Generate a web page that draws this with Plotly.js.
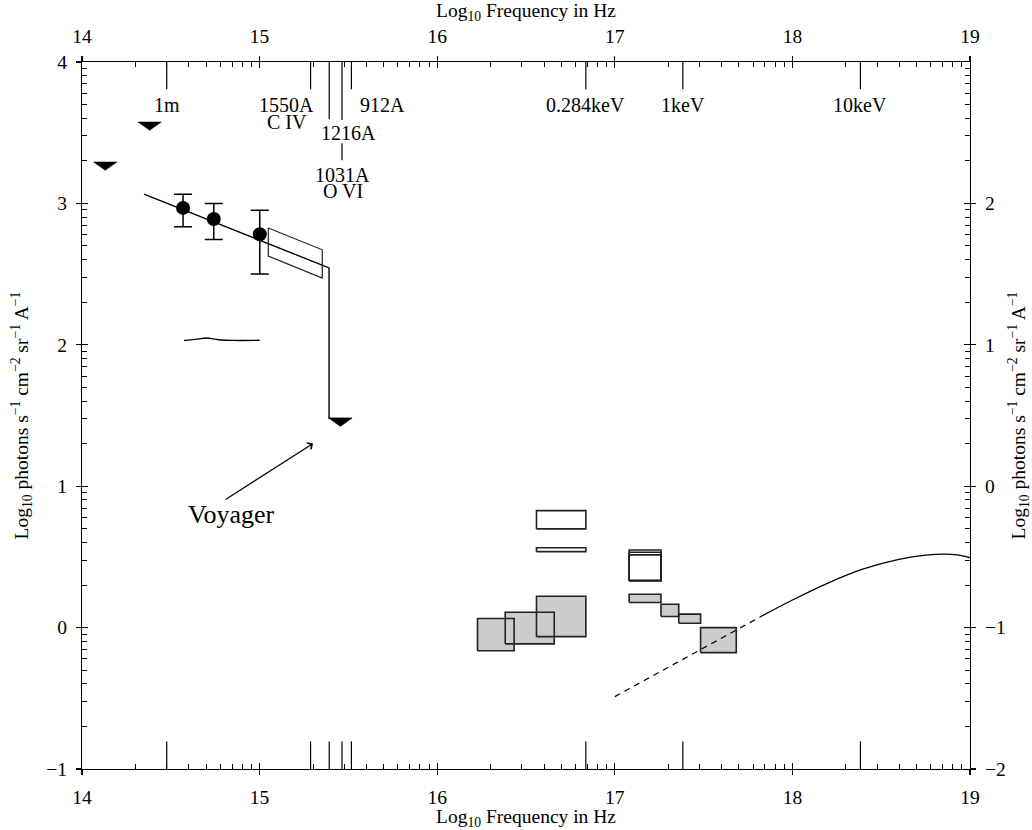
<!DOCTYPE html>
<html><head><meta charset="utf-8">
<script src="https://cdn.plot.ly/plotly-3.0.1.min.js"></script>
<style>body{margin:0;background:#fff}</style>
</head><body><div id="chart" style="width:1032px;height:830px"></div>
<script>
// ---- data ----
const limitX = [14.131, 14.381, 15.455];
const limitY = [3.293, 3.576, 1.482];
const pointX = [14.569, 14.742, 15.001];
const pointY = [2.968, 2.890, 2.782];
const pointHi = [3.065, 3.000, 2.952];
const pointLo = [2.834, 2.745, 2.500];
const fitX = [14.349, 15.391, 15.391, 15.517];
const fitY = [3.065, 2.544, 1.480, 1.480];
const paraX = [15.049, 15.353];
const paraTop = [2.826, 2.672];
const paraBot = [2.628, 2.472];
const wiggleX = [14.575, 14.65, 14.70, 14.77, 14.85, 15.0];
const wiggleY = [2.030, 2.040, 2.048, 2.036, 2.031, 2.032];
const openX0 = [16.559, 16.559, 17.081, 17.081, 17.081];
const openX1 = [16.837, 16.837, 17.260, 17.260, 17.260];
const openY0 = [0.698, 0.537, 0.332, 0.332, 0.332];
const openY1 = [0.827, 0.565, 0.549, 0.533, 0.514];
const grayX0 = [16.227, 16.383, 16.559, 17.081, 17.260, 17.360, 17.483];
const grayX1 = [16.433, 16.659, 16.837, 17.260, 17.360, 17.483, 17.684];
const grayY0 = [-0.164, -0.115, -0.064, 0.177, 0.078, 0.031, -0.177];
const grayY1 = [0.064, 0.109, 0.222, 0.236, 0.165, 0.095, 0.000];
const dashX = [17.0, 17.84];
const dashY = [-0.488, 0.09];
const modelX = [17.84, 18.0, 18.2, 18.4, 18.6, 18.75, 18.85, 18.93, 19.0];
const modelY = [0.09, 0.195, 0.315, 0.415, 0.482, 0.512, 0.520, 0.514, 0.494];
const lineNames = ['1m', '1550A', '1216A', '1031A', '912A', '0.284keV', '1keV', '10keV'];
const lineLogNu = [14.477, 15.287, 15.392, 15.464, 15.517, 16.837, 17.383, 18.383];
const lineTopEnd = [3.807, 3.807, 3.595, 3.590, 3.807, 3.807, 3.807, 3.807];
const lineBotEnd = [-0.805, -0.805, -0.805, -0.805, -0.805, -0.805, -0.805, -0.805];
const ovi = {x: 15.464, y0: 3.425, y1: 3.305};
const xTicks = [14, 15, 16, 17, 18, 19];
const yLeftTicks = [-1, 0, 1, 2, 3, 4];
const yRightTicks = [-2, -1, 0, 1, 2];
const yRightRange = [-2, 3];

// ---- helpers ----
const FONT = 'Liberation Serif, Times New Roman, serif';
function decadeMinors(a, b) {
  const v = [];
  for (let n = a; n < b; n++) for (let k = 2; k <= 9; k++) v.push(n + Math.log10(k));
  return v;
}
const base = {mode: 'lines', hoverinfo: 'skip', showlegend: false};
const traces = [];

// gray fills
for (let i = 0; i < grayX0.length; i++) {
  traces.push(Object.assign({}, base, {
    x: [grayX0[i], grayX1[i], grayX1[i], grayX0[i], grayX0[i]],
    y: [grayY0[i], grayY0[i], grayY1[i], grayY1[i], grayY0[i]],
    fill: 'toself', fillcolor: '#cccccc', line: {width: 0, color: 'rgba(0,0,0,0)'}
  }));
}
// gray outlines
for (let i = 0; i < grayX0.length; i++) {
  traces.push(Object.assign({}, base, {
    x: [grayX0[i], grayX1[i], grayX1[i], grayX0[i], grayX0[i]],
    y: [grayY0[i], grayY0[i], grayY1[i], grayY1[i], grayY0[i]],
    line: {width: 1.6, color: '#222'}
  }));
}
// open boxes
for (let i = 0; i < openX0.length; i++) {
  traces.push(Object.assign({}, base, {
    x: [openX0[i], openX1[i], openX1[i], openX0[i], openX0[i]],
    y: [openY0[i], openY0[i], openY1[i], openY1[i], openY0[i]],
    line: {width: 1.6, color: '#222'}
  }));
}
// parallelogram
traces.push(Object.assign({}, base, {
  x: [paraX[0], paraX[1], paraX[1], paraX[0], paraX[0]],
  y: [paraTop[0], paraTop[1], paraBot[1], paraBot[0], paraTop[0]],
  line: {width: 1.2, color: '#222'}
}));
// fit line
traces.push(Object.assign({}, base, {x: fitX, y: fitY, line: {width: 1.4, color: '#000'}}));
// wiggle
traces.push(Object.assign({}, base, {x: wiggleX, y: wiggleY, line: {width: 1.4, color: '#000', shape: 'spline'}}));
// dashed and model
traces.push(Object.assign({}, base, {x: dashX, y: dashY, line: {width: 1.2, color: '#000', dash: '6px,5px'}}));
traces.push(Object.assign({}, base, {x: modelX, y: modelY, line: {width: 1.3, color: '#000', shape: 'spline', smoothing: 1}}));
// upper-limit triangles
const hw = 0.066, th = 0.059;
for (let i = 0; i < limitX.length; i++) {
  traces.push(Object.assign({}, base, {
    x: [limitX[i] - hw, limitX[i] + hw, limitX[i], limitX[i] - hw],
    y: [limitY[i], limitY[i], limitY[i] - th, limitY[i]],
    fill: 'toself', fillcolor: '#000', line: {width: 0.5, color: '#000'}
  }));
}
// data points with error bars
traces.push({
  x: pointX, y: pointY, mode: 'markers', hoverinfo: 'skip', showlegend: false,
  marker: {symbol: 'circle', size: 14, color: '#000'},
  error_y: {type: 'data', symmetric: false,
    array: pointHi.map((h, i) => h - pointY[i]),
    arrayminus: pointLo.map((l, i) => pointY[i] - l),
    width: 9, thickness: 1.5, color: '#000'}
});
// spectral line markers (top and bottom)
const topX = [], topY = [], botX = [], botY = [];
for (let i = 0; i < lineLogNu.length; i++) {
  topX.push(lineLogNu[i], lineLogNu[i], null); topY.push(4, lineTopEnd[i], null);
  botX.push(lineLogNu[i], lineLogNu[i], null); botY.push(-1, lineBotEnd[i], null);
}
topX.push(ovi.x, ovi.x, null); topY.push(ovi.y0, ovi.y1, null);
traces.push(Object.assign({}, base, {x: topX, y: topY, line: {width: 1.2, color: '#000'}}));
traces.push(Object.assign({}, base, {x: botX, y: botY, line: {width: 1.2, color: '#000'}}));

// dummy traces so overlay axes are drawn
traces.push({x: [14], y: [-2], xaxis: 'x2', yaxis: 'y2', mode: 'markers', marker: {opacity: 0}, hoverinfo: 'skip', showlegend: false});
traces.push({x: [14], y: [-1], xaxis: 'x3', yaxis: 'y3', mode: 'markers', marker: {opacity: 0}, hoverinfo: 'skip', showlegend: false});
traces.push({x: [14], y: [-2], xaxis: 'x4', yaxis: 'y4', mode: 'markers', marker: {opacity: 0}, hoverinfo: 'skip', showlegend: false});

const titleX = 'Log<sub>10</sub> Frequency in Hz';
const titleY = 'Log<sub>10</sub> photons s<sup>−1</sup> cm<sup>−2</sup> sr<sup>−1</sup> A<sup>−1</sup>';
const tickFont = {family: FONT, size: 19.5, color: '#000'};
const titleFont = {family: FONT, size: 19.5, color: '#000'};

const xCommon = {range: [14, 19], showgrid: false, zeroline: false, linecolor: '#000', linewidth: 1.2,
  tickmode: 'array', tickvals: xTicks, ticktext: xTicks.map(String), ticks: 'inside', ticklen: 6, tickwidth: 1.1, tickcolor: '#000',
  minor: {tickmode: 'array', tickvals: decadeMinors(14, 19), ticks: 'inside', ticklen: 5, tickwidth: 1, tickcolor: '#000'},
  tickfont: tickFont, ticklabelstandoff: 10, fixedrange: true};
const outX = {range: [14, 19], showgrid: false, zeroline: false, showline: false, showticklabels: false,
  tickmode: 'array', tickvals: xTicks, ticks: 'outside', ticklen: 5, tickwidth: 1.1, tickcolor: '#000', overlaying: 'x', anchor: 'y'};
const yMinL = decadeMinors(-1, 4);
const yMinR = decadeMinors(-2, 3);

const layout = {
  width: 1032, height: 830,
  margin: {l: 82, r: 62, t: 62, b: 61},
  paper_bgcolor: '#fff', plot_bgcolor: '#fff',
  font: {family: FONT, color: '#000'},
  showlegend: false,
  xaxis: Object.assign({}, xCommon, {side: 'bottom', anchor: 'y', title: {text: titleX, font: titleFont, standoff: 8}}),
  xaxis2: Object.assign({}, xCommon, {side: 'top', overlaying: 'x', anchor: 'y2', title: {text: titleX, font: titleFont, standoff: 6}}),
  xaxis3: Object.assign({}, outX, {side: 'bottom', anchor: 'y'}),
  xaxis4: Object.assign({}, outX, {side: 'top', anchor: 'y'}),
  yaxis: {range: [-1, 4], showgrid: false, zeroline: false, linecolor: '#000', linewidth: 1.2,
    tickmode: 'array', tickvals: yLeftTicks, ticks: 'inside', ticklen: 6, tickwidth: 1.1, tickcolor: '#000',
    minor: {tickmode: 'array', tickvals: yMinL, ticks: 'inside', ticklen: 5, tickwidth: 1, tickcolor: '#000'},
    tickfont: tickFont, ticklabelstandoff: 10, side: 'left', anchor: 'x',
    title: {text: titleY, font: titleFont, standoff: 12}},
  yaxis2: {range: yRightRange, showgrid: false, zeroline: false, linecolor: '#000', linewidth: 1.2,
    tickmode: 'array', tickvals: yRightTicks, ticks: 'inside', ticklen: 6, tickwidth: 1.1, tickcolor: '#000',
    minor: {tickmode: 'array', tickvals: yMinR, ticks: 'inside', ticklen: 5, tickwidth: 1, tickcolor: '#000'},
    tickfont: tickFont, ticklabelstandoff: 10, side: 'right', overlaying: 'y', anchor: 'x',
    title: {text: titleY, font: titleFont, standoff: 14}},
  yaxis3: {range: [-1, 4], showgrid: false, zeroline: false, showline: false, showticklabels: false,
    tickmode: 'array', tickvals: yLeftTicks, ticks: 'outside', ticklen: 5, tickwidth: 1.1, tickcolor: '#000', side: 'left', overlaying: 'y', anchor: 'x'},
  yaxis4: {range: yRightRange, showgrid: false, zeroline: false, showline: false, showticklabels: false,
    tickmode: 'array', tickvals: yRightTicks, ticks: 'outside', ticklen: 5, tickwidth: 1.1, tickcolor: '#000', side: 'right', overlaying: 'y', anchor: 'x'},
  annotations: []
};

const labFont = {family: FONT, size: 20, color: '#000'};
function lab(text, x, y) {
  layout.annotations.push({text: text, x: x, y: y, xref: 'x', yref: 'y', showarrow: false, font: labFont, xanchor: 'center', yanchor: 'middle'});
}
lab(lineNames[0], 14.477, 3.694);
lab(lineNames[1], 15.150, 3.694);
lab('C IV', 15.153, 3.574);
lab(lineNames[2], 15.502, 3.500);
lab(lineNames[3], 15.468, 3.199);
lab('O VI', 15.468, 3.090);
lab(lineNames[4], 15.694, 3.694);
lab(lineNames[5], 16.837, 3.694);
lab(lineNames[6], 17.383, 3.694);
lab(lineNames[7], 18.383, 3.694);
layout.annotations.push({text: 'Voyager', x: 14.843, y: 0.80, xref: 'x', yref: 'y', showarrow: false,
  font: {family: FONT, size: 26, color: '#000'}, xanchor: 'center', yanchor: 'middle'});
layout.annotations.push({text: '', x: 15.301, y: 1.302, ax: 14.80, ay: 0.90, axref: 'x', ayref: 'y', xref: 'x', yref: 'y',
  showarrow: true, arrowhead: 4, arrowsize: 1.2, arrowwidth: 1.2, arrowcolor: '#000', standoff: 0});

Plotly.newPlot('chart', traces, layout, {staticPlot: true, displayModeBar: false});
</script></body></html>
